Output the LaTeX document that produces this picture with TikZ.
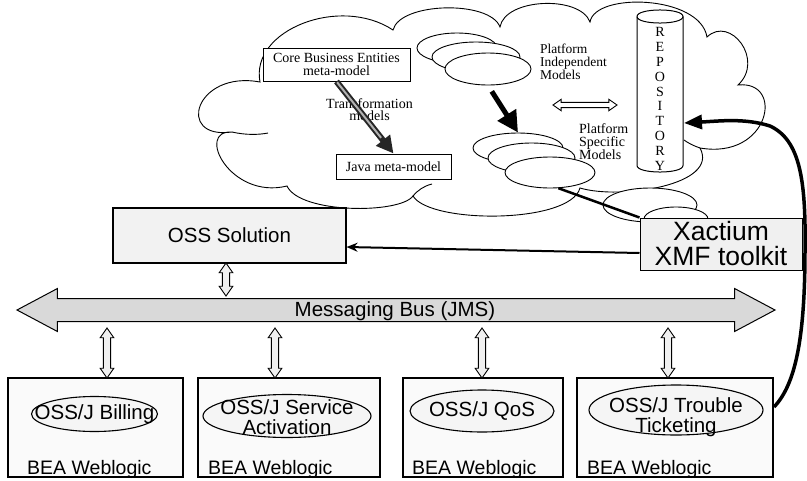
\documentclass[tikz,border=0pt]{standalone}
\usepackage{fontspec}
\setmainfont{Liberation Serif}
\setsansfont{Liberation Sans}
\usetikzlibrary{shapes.geometric,shapes.arrows,arrows.meta}
\tikzset{
  sanstxt/.style={font=\sffamily\fontsize{20.5}{20}\selectfont, align=center, inner sep=0pt},
  seriftxt/.style={font=\rmfamily\fontsize{14}{13}\selectfont, inner sep=0pt},
  modelell/.style={ellipse, draw, line width=0.9pt, fill=white, inner sep=0pt},
  svcell/.style={ellipse, draw, line width=1.1pt, fill=gray!8, inner sep=0pt},
  hollowarr/.style={double arrow, draw, line width=0.9pt, fill=gray!12, inner xsep=0pt, inner ysep=3.2pt, double arrow head extend=3.2pt, double arrow tip angle=70},
  wlbox/.style={draw, line width=1.1pt, fill=gray!4, minimum height=99pt, inner sep=0pt},
  beatxt/.style={font=\sffamily\fontsize{19.5}{20}\selectfont, anchor=base west, inner sep=0pt},
}
\begin{document}
\begin{tikzpicture}[x=1pt,y=-1pt]
\useasboundingbox (0,0) rectangle (807,480);
\fill[white] (0,0) rectangle (807,480);

% cloud
\draw[line width=0.9pt, fill=white] (232,132) .. controls (175,140) and (195,70) .. (260,82)
 .. controls (250,30) and (340,-5) .. (393,30)
 .. controls (400,2) and (490,0) .. (500,27)
 .. controls (505,-2) and (580,-5) .. (590,22)
 .. controls (595,-8) and (700,-5) .. (707,37)
 .. controls (730,15) and (765,60) .. (738,85)
 .. controls (785,80) and (770,160) .. (700,148)
 .. controls (720,185) and (620,200) .. (580,188)
 .. controls (570,224) and (430,224) .. (413,196)
 .. controls (400,214) and (300,214) .. (287,186)
 .. controls (230,200) and (195,130) .. (232,132) -- cycle;
\draw[line width=0.9pt] (232,132) .. controls (245,135) and (258,135) .. (268,133);
\draw[line width=0.9pt] (413,196) .. controls (418,190) and (424,186) .. (432,184);
\draw[line width=0.9pt] (700,148) .. controls (694,146) and (688,143) .. (684,140);

% meta-model boxes
\node[draw, line width=1pt, fill=white, minimum width=147pt, minimum height=33pt, seriftxt, align=center] (core) at (336.5,64.5) {Core Business Entities\\meta-model};
\node[draw, line width=1pt, fill=white, minimum width=115pt, minimum height=25pt, seriftxt] (java) at (393.5,166.5) {Java meta-model};
\node[seriftxt, align=center, font=\rmfamily\fontsize{14}{12.7}\selectfont] (transtxt) at (369.5,109.7) {Transformation\\models};
\draw[line width=6pt, black!85, -{Triangle[length=17pt,width=17pt]}] (core.south) -- (java.north);
\draw[line width=2pt, gray!60, shorten >=20pt, shorten <=1pt] (core.south) -- (java.north);

% PIM
\node[modelell, minimum width=80pt, minimum height=30pt] (pim1) at (457,48) {};
\node[modelell, minimum width=88pt, minimum height=30pt] (pim2) at (476,57) {};
\node[modelell, minimum width=86pt, minimum height=32pt] (pim3) at (488,69) {};
\node[seriftxt, align=left, anchor=west, font=\rmfamily\fontsize{13.5}{13}\selectfont] (pimtxt) at (540,61.7) {Platform\\Independent\\Models};

% PSM
\node[modelell, minimum width=90pt, minimum height=30pt] (psm1) at (518,148) {};
\node[modelell, minimum width=87pt, minimum height=30pt] (psm2) at (531.5,158) {};
\node[modelell, minimum width=90pt, minimum height=31pt] (psm3) at (550,172.5) {};
\node[seriftxt, align=left, anchor=west, font=\rmfamily\fontsize{14}{13.3}\selectfont] (psmtxt) at (579,141.7) {Platform\\Specific\\Models};
\draw[line width=5pt, -{Triangle[length=21pt,width=21pt]}, shorten <=7pt] (pim3.south) -- (psm1.north);
\node[hollowarr, fill=white, minimum height=64pt, inner ysep=2.2pt, double arrow head extend=3pt] (pimpsm) at (585,105) {};

% repository cylinder
\filldraw[line width=1pt, fill=white] (637,16.5) -- (637,165.5) .. controls (637,174.2) and (683,174.2) .. (683,165.5) -- (683,16.5) .. controls (683,7.8) and (637,7.8) .. (637,16.5) -- cycle;
\draw[line width=1pt] (637,16.5) .. controls (637,25.2) and (683,25.2) .. (683,16.5);
\node[minimum width=46pt, minimum height=162pt, inner sep=0pt] (repo) at (660,91) {};
\node[seriftxt, align=center, font=\rmfamily\fontsize{14}{14.8}\selectfont] (repotxt) at (660,99) {R\\E\\P\\O\\S\\I\\T\\O\\R\\Y};
\coordinate (repoin) at (684,123);

% cloud tail
\node[modelell, minimum width=94pt, minimum height=34pt] (tail1) at (650,205) {};
\node[modelell, minimum width=64pt, minimum height=24pt] (tail2) at (676,219) {};

% Xactium
\node[draw, line width=1pt, fill=gray!12, minimum width=162pt, minimum height=52pt, font=\sffamily\fontsize{26.5}{25}\selectfont, align=center, inner sep=0pt] (xmf) at (721,244) {Xactium\\XMF toolkit};
\draw[line width=2.5pt] (psm3.-62) -- (xmf.north west);

% OSS Solution
\node[draw, line width=1.1pt, fill=gray!10, minimum width=233pt, minimum height=55pt, sanstxt] (oss) at (229.5,235.5) {OSS Solution};
\draw[line width=2pt, -{Stealth[length=11pt,width=9pt]}] ([yshift=-9pt]xmf.west) -- ([yshift=-11.5pt]oss.east);

% bus
\node[hollowarr, rotate=90, minimum height=33pt] (ossbus) at (226,279.5) {};
\node[double arrow, draw, line width=1pt, fill=gray!30, inner xsep=0pt, inner ysep=11pt, double arrow head extend=10pt, double arrow tip angle=56, minimum height=758pt] (bus) at (396,310) {};
\node[sanstxt] (bustxt) at (395,311) {Messaging Bus (JMS)};

% weblogic boxes
\node[wlbox, minimum width=175pt] (box1) at (95.5,427.5) {};
\node[wlbox, minimum width=182pt] (box2) at (289,427.5) {};
\node[wlbox, minimum width=160pt] (box3) at (483,427.5) {};
\node[wlbox, minimum width=196pt] (box4) at (675,427.5) {};

\node[hollowarr, rotate=90, minimum height=50pt] (a1) at (107,353) {};
\node[hollowarr, rotate=90, minimum height=50pt] (a2) at (275,353) {};
\node[hollowarr, rotate=90, minimum height=50pt] (a3) at (482,353) {};
\node[hollowarr, rotate=90, minimum height=50pt] (a4) at (668,353) {};

\node[svcell, minimum width=126pt, minimum height=35pt] (s1) at (94.5,414) {};
\node[svcell, minimum width=168pt, minimum height=43pt] (s2) at (287,416) {};
\node[svcell, minimum width=144pt, minimum height=42pt] (s3) at (482,411) {};
\node[svcell, minimum width=174pt, minimum height=50pt] (s4) at (676,410) {};
\node[sanstxt] (t1) at (94.5,414) {OSS/J Billing};
\node[sanstxt] (t2) at (287,417) {OSS/J Service\\Activation};
\node[sanstxt] (t3) at (482,411) {OSS/J QoS};
\node[sanstxt] (t4) at (676,417) {OSS/J Trouble\\Ticketing};

\node[beatxt] (b1) at (27,474) {BEA Weblogic};
\node[beatxt] (b2) at (208,474) {BEA Weblogic};
\node[beatxt] (b3) at (412,474) {BEA Weblogic};
\node[beatxt] (b4) at (587,474) {BEA Weblogic};

% curved arrow to repository
\coordinate (curvestart) at (774,407);
\draw[line width=3.5pt, -{Triangle[length=18pt,width=14pt]}] (curvestart) .. controls (795,385) and (805,340) .. (805,250)
  .. controls (806,180) and (800,140) .. (770,126) .. controls (745,118) and (720,121) .. (repoin);
\end{tikzpicture}
\end{document}
